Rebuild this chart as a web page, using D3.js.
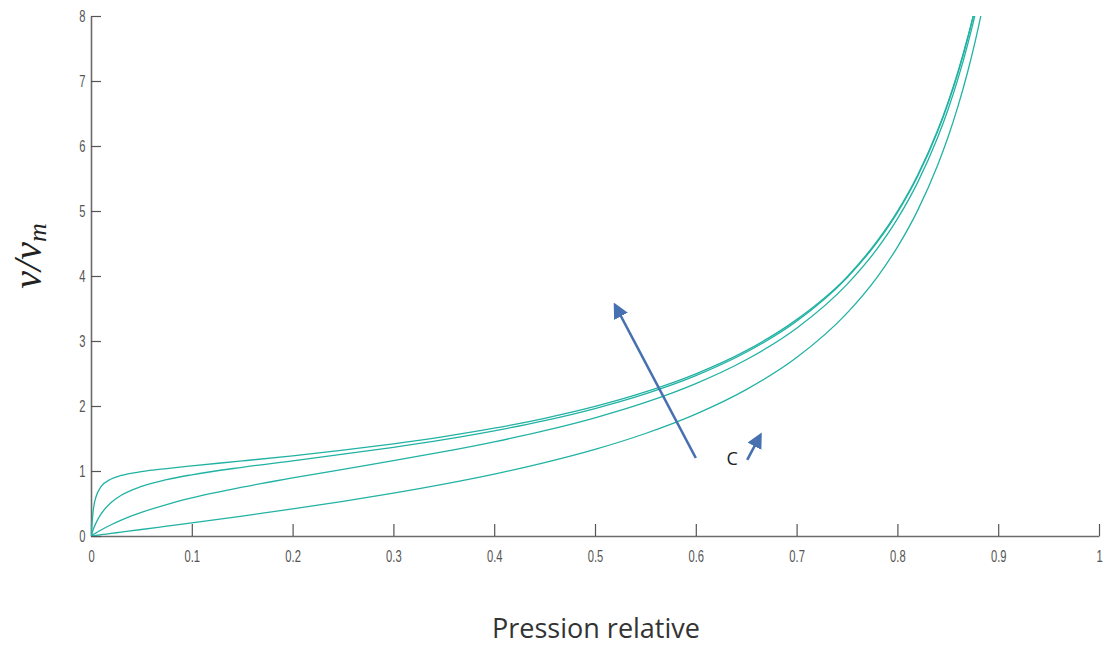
<!DOCTYPE html>
<html>
<head>
<meta charset="utf-8">
<script src="https://cdn.jsdelivr.net/npm/d3@7"></script>
<style>
  body { margin: 0; background: #fff; }
  svg { display: block; }
</style>
</head>
<body>
<div id="chart"></div>
<script>
// relative pressure (x) shared by every curve
var pressure = [0, 0.0025, 0.005, 0.01, 0.02, 0.03, 0.05, 0.075, 0.1, 0.15, 0.2, 0.25, 0.3, 0.35, 0.4, 0.45,
    0.5, 0.55, 0.6, 0.65, 0.7, 0.75, 0.78, 0.8, 0.82, 0.84, 0.85, 0.86, 0.87, 0.875, 0.88, 0.885, 0.89];

// v/vm, one list per curve (C going up)
var curveC2 = [0, 0.005, 0.010, 0.020, 0.040, 0.060, 0.100, 0.151, 0.202, 0.307, 0.417, 0.533, 0.659, 0.798, 0.952, 1.129,
    1.333, 1.577, 1.875, 2.251, 2.745, 3.429, 3.984, 4.444, 5.006, 5.707, 6.126, 6.605, 7.158, 7.467, 7.801, 8.165, 8.562];
var curveC10 = [0, 0.025, 0.048, 0.093, 0.173, 0.244, 0.363, 0.484, 0.585, 0.751, 0.893, 1.026, 1.158, 1.297, 1.449, 1.620,
    1.818, 2.054, 2.344, 2.711, 3.196, 3.871, 4.421, 4.878, 5.436, 6.133, 6.551, 7.028, 7.579, 7.887, 8.221, 8.584, 8.980];
var curveC50 = [0, 0.112, 0.202, 0.339, 0.515, 0.626, 0.763, 0.867, 0.942, 1.057, 1.157, 1.258, 1.365, 1.483, 1.618, 1.775,
    1.961, 2.186, 2.467, 2.827, 3.305, 3.974, 4.520, 4.975, 5.531, 6.226, 6.643, 7.120, 7.669, 7.977, 8.311, 8.673, 9.069];
var curveC300 = [0, 0.430, 0.604, 0.759, 0.877, 0.931, 0.990, 1.038, 1.079, 1.155, 1.234, 1.320, 1.418, 1.529, 1.658, 1.811,
    1.993, 2.216, 2.494, 2.852, 3.329, 3.987, 4.541, 4.996, 5.551, 6.246, 6.663, 7.139, 7.689, 7.990, 8.330, 8.692, 9.087];

var xTicks = [0, 0.1, 0.2, 0.3, 0.4, 0.5, 0.6, 0.7, 0.8, 0.9, 1];
var yTicks = [0, 1, 2, 3, 4, 5, 6, 7, 8];

// annotation arrows, in data units: [x1, y1, x2, y2]
var bigArrow = [0.6, 1.2, 0.52, 3.55];
var smallArrow = [0.651, 1.17, 0.664, 1.55];
var cLabel = {x: 0.636, y: 1.09, text: "C"};

var width = 1103, height = 646;

var svg = d3.select("#chart").append("svg")
    .attr("width", width)
    .attr("height", height);

var x = d3.scaleLinear().domain([0, 1]).range([91, 1099]);
var y = d3.scaleLinear().domain([0, 8]).range([536, 16]);

var defs = svg.append("defs");
defs.append("clipPath").attr("id", "plotclip")
    .append("rect")
    .attr("x", x(0))
    .attr("y", y(8))
    .attr("width", x(1) - x(0))
    .attr("height", y(0) - y(8));

defs.append("marker")
    .attr("id", "head")
    .attr("viewBox", "0 0 10 10")
    .attr("refX", 8).attr("refY", 5)
    .attr("markerWidth", 6).attr("markerHeight", 6)
    .attr("orient", "auto")
    .append("path")
    .attr("d", "M0,0L10,5L0,10z")
    .attr("fill", "#4670b0");

// narrow gray tick labels (squeezed horizontally)
var squeeze = 0.7;

// x axis
var xAxis = svg.append("g")
    .attr("transform", "translate(0," + y(0) + ")")
    .call(d3.axisBottom(x).tickValues(xTicks).tickSizeInner(-12).tickSizeOuter(0).tickPadding(15)
        .tickFormat(function(d) { return d3.format("")(d); }));

// y axis
var yAxis = svg.append("g")
    .attr("transform", "translate(" + x(0) + ",0)")
    .call(d3.axisLeft(y).tickValues(yTicks).tickSizeInner(-10).tickSizeOuter(0).tickPadding(8));

[xAxis, yAxis].forEach(function(g) {
    g.attr("font-size", 16).attr("font-family", "'Liberation Sans', Arial, sans-serif");
    g.select(".domain").attr("stroke", "#6b6b6b").attr("stroke-width", 1.6);
    g.selectAll(".tick line").attr("stroke", "#555").attr("stroke-width", 1.2);
    g.selectAll(".tick text")
        .attr("fill", "#555")
        .attr("transform", "scale(" + squeeze + ",1)");
});

// curves
var line = d3.line()
    .x(function(d) { return x(d[0]); })
    .y(function(d) { return y(d[1]); })
    .curve(d3.curveMonotoneX);

var curves = [curveC2, curveC10, curveC50, curveC300];
svg.append("g")
    .attr("clip-path", "url(#plotclip)")
    .selectAll("path")
    .data(curves)
    .enter().append("path")
    .attr("d", function(vals) { return line(d3.zip(pressure, vals)); })
    .attr("fill", "none")
    .attr("stroke", "#22b2a3")
    .attr("stroke-width", 1.3);

// arrows + label
svg.append("line")
    .attr("x1", x(bigArrow[0])).attr("y1", y(bigArrow[1]))
    .attr("x2", x(bigArrow[2])).attr("y2", y(bigArrow[3]))
    .attr("stroke", "#4670b0")
    .attr("stroke-width", 2.6)
    .attr("marker-end", "url(#head)");

svg.append("line")
    .attr("x1", x(smallArrow[0])).attr("y1", y(smallArrow[1]))
    .attr("x2", x(smallArrow[2])).attr("y2", y(smallArrow[3]))
    .attr("stroke", "#4670b0")
    .attr("stroke-width", 2.6)
    .attr("marker-end", "url(#head)");

svg.append("text")
    .attr("x", x(cLabel.x)).attr("y", y(cLabel.y))
    .attr("text-anchor", "middle")
    .style("font-family", "'Open Sans', sans-serif")
    .style("font-size", "18px")
    .attr("fill", "#222")
    .text(cLabel.text);

// axis titles
svg.append("text")
    .attr("x", 596).attr("y", 638)
    .attr("text-anchor", "middle")
    .style("font-family", "'Open Sans', sans-serif")
    .style("font-size", "27px")
    .attr("fill", "#333")
    .text("Pression relative");

var ylab = svg.append("text")
    .attr("transform", "translate(41,256) rotate(-90)")
    .attr("text-anchor", "middle")
    .style("font-family", "'Liberation Serif', serif")
    .style("font-style", "italic")
    .style("font-size", "40px")
    .attr("fill", "#222");
ylab.append("tspan").text("v/v");
ylab.append("tspan").attr("dy", 5).style("font-size", "26px").text("m");
</script>
</body>
</html>
